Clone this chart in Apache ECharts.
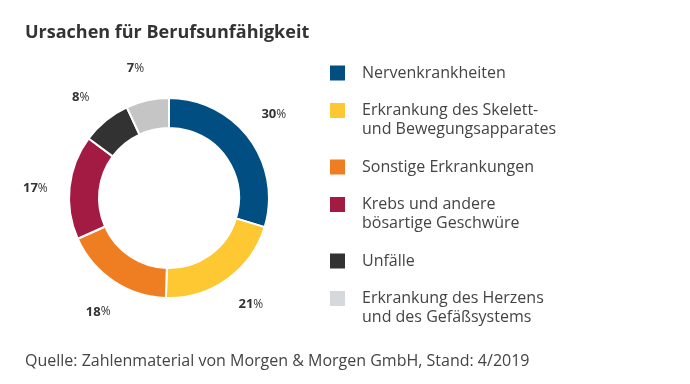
<!DOCTYPE html>
<html><head><meta charset="utf-8">
<script src="https://cdn.jsdelivr.net/npm/echarts@6/dist/echarts.min.js"></script>
<style>html,body{margin:0;padding:0;background:#fff}#c{width:690px;height:384px}</style>
</head><body><div id="c"></div>
<script>
const titleText = 'Ursachen für Berufsunfähigkeit';
const sourceText = 'Quelle: Zahlenmaterial von Morgen & Morgen GmbH, Stand: 4/2019';
const categories = ['Nervenkrankheiten', 'Erkrankung des Skelett-\nund Bewegungsapparates', 'Sonstige Erkrankungen', 'Krebs und andere\nbösartige Geschwüre', 'Unfälle', 'Erkrankung des Herzens\nund des Gefäßsystems'];
const values = [30, 21, 18, 17, 8, 7];
const sliceColors = ['#004e82', '#fec832', '#ef7d22', '#a31a43', '#323232', '#c5c5c5'];
const legendColors = ['#004e82', '#fec832', '#ef7d22', '#a31a43', '#323232', '#d5d9dd'];

const font = '"Open Sans", Lato, sans-serif';
const iconSingle = 'path://M0,0h0.01M0,9.5h15v15h-15zM0,34h0.01';
const iconDouble = 'path://M0,0h15v15h-15zM0,34h0.01';

const chart = echarts.init(document.getElementById('c'), null, {renderer: 'canvas'});
chart.setOption({
  animation: false,
  title: {
    text: titleText, left: 20, top: 19,
    textStyle: {fontFamily: font, fontSize: 18, fontWeight: 'bold', color: '#333'}
  },
  graphic: [{
    type: 'text', left: 25, top: 353,
    style: {text: sourceText, font: '16px ' + font, fill: '#444'}
  }],
  legend: {
    orient: 'vertical', left: 325, top: 51,
    itemWidth: 15, itemHeight: 34, itemGap: 11,
    itemStyle: {borderWidth: 0},
    selectedMode: false,
    textStyle: {fontFamily: font, fontSize: 16, color: '#444', lineHeight: 19, padding: [0, 0, 0, 12]},
    data: categories.map((c, i) => ({
      name: c,
      icon: c.indexOf('\n') >= 0 ? iconDouble : iconSingle,
      itemStyle: {color: legendColors[i], borderWidth: 0}
    }))
  },
  series: [{
    type: 'pie',
    center: [169, 198],
    radius: [70, 100],
    startAngle: 90,
    clockwise: true,
    avoidLabelOverlap: false,
    itemStyle: {borderColor: '#fff', borderWidth: 2},
    label: {show: false},
    labelLine: {show: false},
    emphasis: {disabled: true},
    data: categories.map((c, i) => ({name: c, value: values[i], itemStyle: {color: sliceColors[i]}}))
  }, {
    type: 'pie',
    center: [169, 198],
    radius: [104, 158],
    startAngle: 92,
    clockwise: true,
    silent: true,
    avoidLabelOverlap: false,
    legendHoverLink: false,
    itemStyle: {color: 'rgba(0,0,0,0)', borderWidth: 0},
    labelLine: {show: false},
    label: {
      show: true, position: 'inside',
      formatter: p => '{n|' + p.value + '}{p|%}',
      rich: {
        n: {fontFamily: font, fontSize: 13, fontWeight: 'bold', color: '#333'},
        p: {fontFamily: font, fontSize: 12, color: '#333'}
      }
    },
    emphasis: {disabled: true},
    data: categories.map((c, i) => ({name: c + ' ', value: values[i]}))
  }]
});
</script></body></html>
